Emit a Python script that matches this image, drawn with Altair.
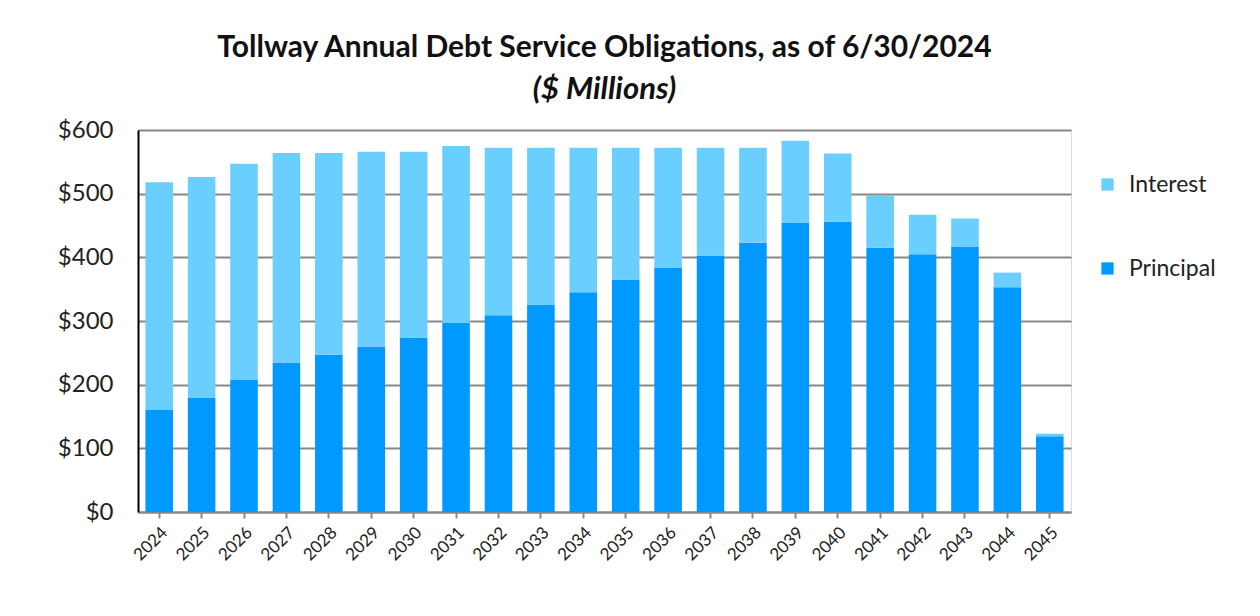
import altair as alt
import pandas as pd

years = [str(y) for y in range(2024, 2046)]
principal = [161, 179, 208, 235, 247, 260, 274, 297, 309, 326, 345,
             365, 384, 403, 423, 454, 456, 415, 405, 417, 353, 119]
interest = [357, 347, 339, 329, 317, 306, 292, 278, 263, 246, 227,
            207, 188, 169, 149, 129, 107, 83, 62, 44, 23, 4]
series = ["Interest", "Principal"]
colors = ["#6ACEFF", "#0099FF"]

rows = []
for y, p, i in zip(years, principal, interest):
    rows.append({"Year": y, "Type": "Principal", "Value": p, "ord": 0})
    rows.append({"Year": y, "Type": "Interest", "Value": i, "ord": 1})
df = pd.DataFrame(rows)

FONT = "Lato"

chart = alt.Chart(df).mark_bar().encode(
    x=alt.X("Year:N", sort=years, title=None,
            scale=alt.Scale(paddingInner=0.35, paddingOuter=0.175),
            axis=alt.Axis(labelAngle=-45, labelFontSize=17, labelFont=FONT,
                          labelColor="#222", domainColor="#888", domainWidth=2,
                          tickColor="#888", tickWidth=2, tickSize=6,
                          labelPadding=6, grid=False)),
    y=alt.Y("Value:Q", stack="zero", title=None,
            scale=alt.Scale(domain=[0, 600], nice=False),
            axis=alt.Axis(values=[0, 100, 200, 300, 400, 500, 600], format="$,.0f",
                          labelFontSize=24, labelFont=FONT, labelColor="#222",
                          ticks=False, labelPadding=25, domainColor="#000",
                          domainWidth=2, gridColor="#888", gridWidth=2)),
    color=alt.Color("Type:N", title=None,
                    scale=alt.Scale(domain=series, range=colors),
                    legend=alt.Legend(orient="none", legendX=958, legendY=43,
                                      symbolType="square", symbolSize=150,
                                      symbolStrokeWidth=0,
                                      labelFontSize=23, labelFont=FONT,
                                      labelColor="#222", rowPadding=60,
                                      padding=0, labelOffset=10)),
    order=alt.Order("ord:Q", sort="ascending"),
).properties(
    width=933, height=382,
    padding={"left": 130, "top": 122, "right": 180, "bottom": 80},
    autosize=alt.AutoSizeParams(type="none"),
    title=alt.TitleParams(
        text="Tollway Annual Debt Service Obligations, as of 6/30/2024",
        subtitle="($ Millions)",
        font=FONT, fontSize=30, fontWeight="bold", color="#111",
        subtitleFont=FONT, subtitleFontSize=31, subtitleFontWeight="bold",
        subtitleFontStyle="italic", subtitleColor="#111", subtitlePadding=12,
        anchor="middle", offset=13),
).configure_view(stroke="#000", strokeWidth=2).configure(background="white")

chart.save("out.html", embed_options={"renderer": "svg", "actions": False})
